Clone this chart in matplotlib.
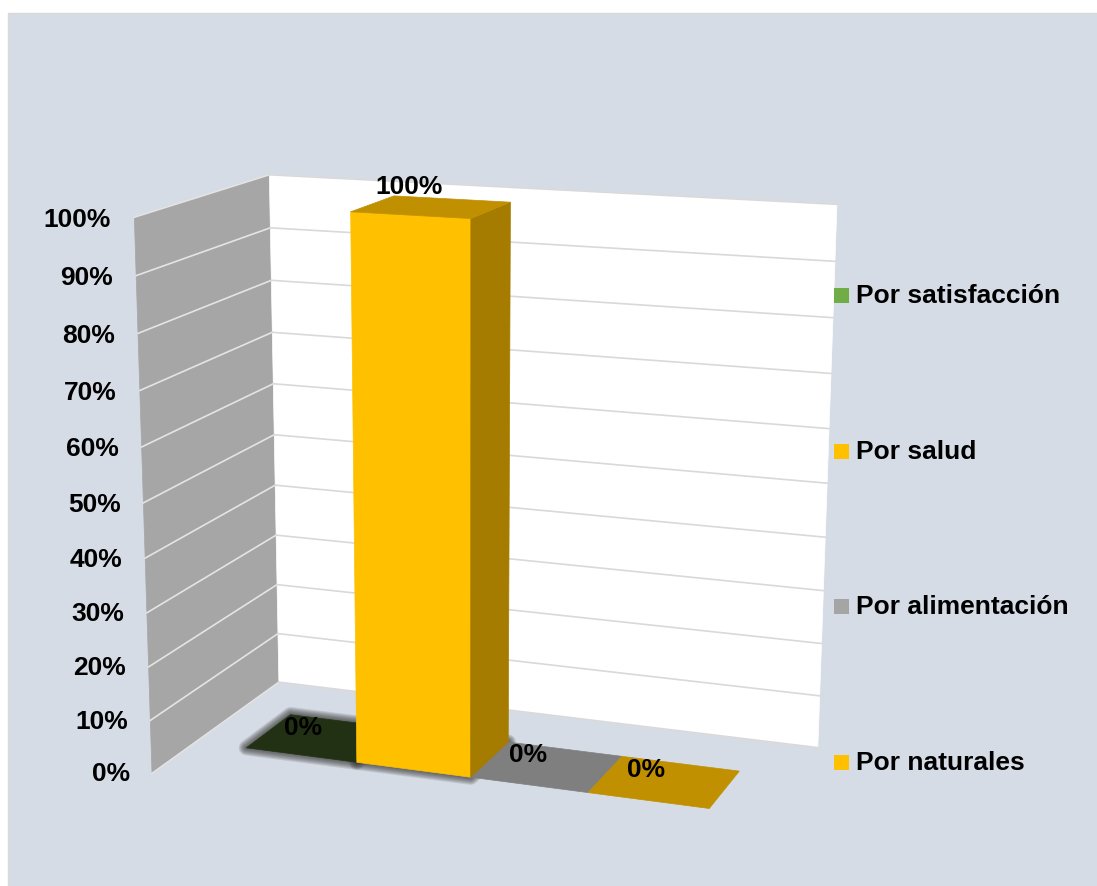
import numpy as np
import matplotlib
matplotlib.use("Agg")
import matplotlib.pyplot as plt
from matplotlib.patches import Polygon, Rectangle

plt.rcParams['font.family'] = ['Liberation Sans', 'DejaVu Sans']

# data
series = ['Por satisfacción', 'Por salud', 'Por alimentación', 'Por naturales']
values = [0, 100, 0, 0]
data_labels = ['0%', '100%', '0%', '0%']
ticks = [0, 10, 20, 30, 40, 50, 60, 70, 80, 90, 100]
tick_labels = ['0%', '10%', '20%', '30%', '40%', '50%', '60%', '70%', '80%', '90%', '100%']

# style
front_cols = ['#70ad47', '#ffc000', '#a5a5a5', '#ffc000']
side_cols = ['#43682b', '#a67c00', '#636363', '#a67c00']
top_cols = ['#223114', '#c09000', '#7f7f7f', '#c09000']
legend_cols = ['#70ad47', '#ffc000', '#a5a5a5', '#ffc000']
legend_y = [295, 451, 606, 762]
label_off = [(-20, -10), (-22, -20), (-19, -12), (-18, -12)]
BG = '#d6dce5'

# chart box: x 0-1 along the wall, value 0-100, depth 0 front to 1 back
BAR_W = 0.203
BAR_X0 = 0.0935
Z_F = 0.33
Z_B = 0.69

# camera calibration, (x, value, depth) -> pixel
walls = [
    (0, 100, 0, 135, 215), (0, 0, 0, 153, 771),
    (0, 100, 1, 268, 176), (0, 0, 1, 279, 682),
    (1, 100, 1, 837, 205), (1, 0, 1, 820, 745),
]
front_line = [
    (BAR_X0, 0, Z_F, 248, 749), (BAR_X0 + BAR_W, 0, Z_F, 357, 764),
    (BAR_X0 + 2 * BAR_W, 0, Z_F, 470.5, 779), (BAR_X0 + 3 * BAR_W, 0, Z_F, 587, 794),
    (BAR_X0 + 4 * BAR_W, 0, Z_F, 707, 810),
]
anchors = walls * 3 + front_line * 3 + [
    (BAR_X0 + 4 * BAR_W, 0, Z_B, 739, 768),
    (BAR_X0 + 3 * BAR_W, 0, Z_B, 622, 754), (BAR_X0 + 2 * BAR_W, 0, Z_B, 511, 740),
    (BAR_X0, 0, Z_B, 283, 715),
    (BAR_X0 + BAR_W, 100, Z_F, 350, 212), (BAR_X0 + 2 * BAR_W, 100, Z_F, 469, 219),
    (BAR_X0 + 2 * BAR_W, 100, Z_B, 512, 202), (BAR_X0 + BAR_W, 100, Z_B, 397, 196),
]
A = []
b = []
for x, v, z, u, w in anchors:
    A.append([x, v / 100, z, 1, 0, 0, 0, 0, -u * x, -u * v / 100, -u * z])
    b.append(u)
    A.append([0, 0, 0, 0, x, v / 100, z, 1, -w * x, -w * v / 100, -w * z])
    b.append(w)
P = np.linalg.lstsq(np.array(A, float), np.array(b, float), rcond=None)[0]
P = np.append(P, 1).reshape(3, 4)


def proj(x, v, z):
    p = P @ np.array([x, v / 100, z, 1])
    return p[0] / p[2], p[1] / p[2]


fig = plt.figure(figsize=(10.97, 8.86), dpi=100, facecolor='white')
ax = fig.add_axes([0, 0, 1, 1])
ax.set_xlim(0, 1097)
ax.set_ylim(886, 0)
ax.axis('off')

ax.add_patch(Rectangle((8, 13), 1100, 880, fc=BG, ec='#d9d9d9', lw=1))


def face(pts, col, zo=2, **kw):
    ax.add_patch(Polygon([proj(*p) for p in pts], closed=True, fc=col, ec=col, lw=0.5, zorder=zo, **kw))


# walls
face([(0, 0, 0), (0, 100, 0), (0, 100, 1), (0, 0, 1)], '#a6a6a6')
face([(0, 0, 1), (0, 100, 1), (1, 100, 1), (1, 0, 1)], 'white')
for t in ticks:
    pts = [proj(0, t, 0), proj(0, t, 1), proj(1, t, 1)]
    ax.plot([pts[0][0], pts[1][0]], [pts[0][1], pts[1][1]], color='#e4e4e4', lw=1.2, zorder=3)
    ax.plot([pts[1][0], pts[2][0]], [pts[1][1], pts[2][1]], color='#d9d9d9', lw=1.2, zorder=3)

# tick labels
for t, lab in zip(ticks, tick_labels):
    x, y = proj(0, t, 0)
    ax.text(x - 22 - 1.5 * t / 100, y + 1 + (2 * t / 100), lab, ha='right', va='center', fontsize=19,
            fontweight='bold', color='black', zorder=8)

# soft shadow under the dark bar and the tall bar
for i in [0, 1]:
    x0 = BAR_X0 + i * BAR_W
    x1 = x0 + BAR_W
    outline = [proj(x0, 0, Z_F), proj(x1, 0, Z_F), proj(x1, 0, Z_B), proj(x0, 0, Z_B)]
    for lw in [11, 9.5, 8, 6.5, 5, 3.5, 2]:
        ax.add_patch(Polygon(outline, closed=True, fc='none', ec='#333333', lw=lw, alpha=0.14,
                             joinstyle='round', zorder=3.5))

# bars, tall one last so it sits over the flat ones
order = np.argsort(values)
for i in order:
    x0 = BAR_X0 + i * BAR_W
    x1 = x0 + BAR_W
    v = values[i]
    zo = 4 + v / 100
    if v > 0:
        face([(x0, 0, Z_F), (x0, v, Z_F), (x1, v, Z_F), (x1, 0, Z_F)], front_cols[i], zo)
        face([(x1, 0, Z_F), (x1, v, Z_F), (x1, v, Z_B), (x1, 0, Z_B)], side_cols[i], zo)
    face([(x0, v, Z_F), (x1, v, Z_F), (x1, v, Z_B), (x0, v, Z_B)], top_cols[i], zo)

# data labels
for i, lab in enumerate(data_labels):
    x, y = proj(BAR_X0 + (i + 0.5) * BAR_W, values[i], (Z_F + Z_B) / 2)
    ax.text(x + label_off[i][0], y + label_off[i][1], lab, ha='center', va='center', fontsize=19,
            fontweight='bold', color='black', zorder=9)

# legend
for name, col, y in zip(series, legend_cols, legend_y):
    ax.add_patch(Rectangle((834, y - 7.5), 15, 15, fc=col, ec='none', zorder=8))
    ax.text(855.5, y + 1, name, ha='left', va='center', fontsize=19, fontweight='bold', color='black', zorder=8)

fig.savefig('out.png', dpi=100, facecolor='white')
